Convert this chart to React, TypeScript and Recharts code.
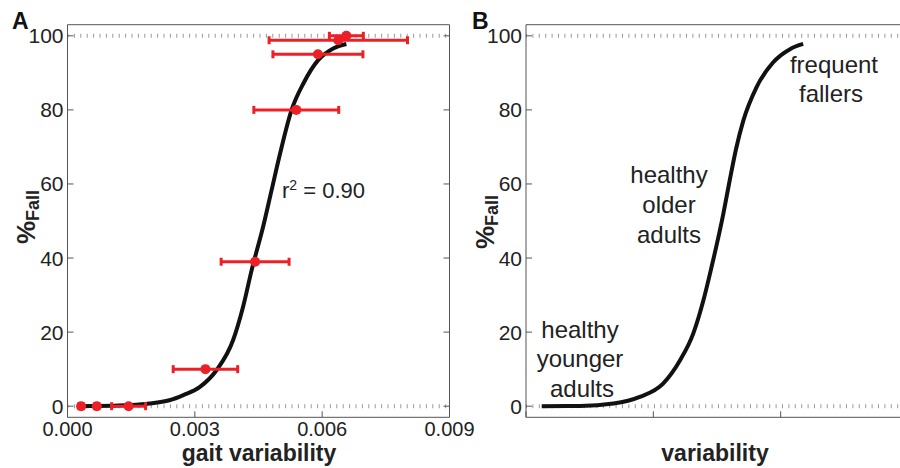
import React from 'react';
import { ComposedChart, Line, Scatter, ErrorBar, XAxis, YAxis, ReferenceLine } from 'recharts';

const percentTicks = [0, 20, 40, 60, 80, 100];
const gaitTicks = [0, 0.003, 0.006, 0.009];
const variabilityTicks = [0, 3, 6, 9];

// panel A – fitted curve (gait variability vs % fallers)
const fitX = [0.0003, 0.0007, 0.0011, 0.0015, 0.00193, 0.0024, 0.00273, 0.00312, 0.00351, 0.0039, 0.00414, 0.00434, 0.00461, 0.00481, 0.00501, 0.00528, 0.00556, 0.00591, 0.00626, 0.00657];
const fitY = [0, 0.05, 0.15, 0.3, 0.7, 1.6, 3.0, 5.2, 9.7, 17.8, 27, 36.8, 48.5, 58.4, 68.3, 80, 87.2, 93.5, 96.6, 97.8];

// panel A – group means with horizontal error bars
const groupX = [0.00032, 0.00069, 0.00144, 0.00325, 0.00442, 0.00539, 0.0059, 0.00638, 0.00657];
const groupY = [0, 0, 0, 10, 39, 80, 95, 98.8, 100];
const groupErr = [0.00005, 0.00005, 0.0004, 0.00076, 0.0008, 0.001, 0.00106, 0.00163, 0.0004];

// panel B – schematic curve
const schemaX = [0.37, 1.27, 2.06, 2.68, 3.23, 3.63, 3.94, 4.18, 4.37, 4.53, 4.65, 4.8, 4.95, 5.12, 5.43, 5.82, 6.22, 6.53];
const schemaY = [0, 0.05, 0.7, 2.5, 6.1, 12.4, 19.6, 28.6, 37.5, 45.5, 52, 61, 69.5, 77.1, 86.1, 92.8, 96.4, 97.8];

const fitData = fitX.map((x, i) => ({ x, y: fitY[i] }));
const groupData = groupX.map((x, i) => ({ x, y: groupY[i], err: groupErr[i] }));
const schemaData = schemaX.map((x, i) => ({ x, y: schemaY[i] }));

const FONT = '"Liberation Sans", Arial, Helvetica, sans-serif';
const AXIS = '#555';
const RED = '#ec2027';
const INK = '#222';

const LeftTick = (props: any) => {
  const { x, y, payload, labelled } = props;
  return (
    <g>
      <line x1={x} x2={x + 6} y1={y} y2={y} stroke={AXIS} />
      {labelled && (
        <text x={x - 4} y={y + 7.5} textAnchor="end" fontSize={21} fill={INK} fontFamily={FONT}>
          {payload.value}
        </text>
      )}
    </g>
  );
};

const RightTick = (props: any) => {
  const { x, y } = props;
  return <line x1={x} x2={x - 6} y1={y} y2={y} stroke={AXIS} />;
};

const BottomTick = (props: any) => {
  const { x, y, payload, labelled } = props;
  return (
    <g>
      <line x1={x} x2={x} y1={y} y2={y - 6} stroke={AXIS} />
      {labelled && (
        <text x={x} y={y + 19} textAnchor="middle" fontSize={20} fill={INK} fontFamily={FONT}>
          {Number(payload.value).toFixed(3)}
        </text>
      )}
    </g>
  );
};

const TopTick = (props: any) => {
  const { x, y } = props;
  return <line x1={x} x2={x} y1={y} y2={y + 6} stroke={AXIS} />;
};

const Dot = (props: any) => <circle cx={props.cx} cy={props.cy} r={5} fill={RED} />;

const dotted = { stroke: '#999', strokeWidth: 4, strokeDasharray: '1 5.4' };

// axes are 1px thick so recharts still draws them; margins below are reduced by 1 to compensate
const Frame = ({ domain, ticks, labelX }: { domain: number[]; ticks: number[]; labelX: boolean }) => [
  <XAxis key="xb" xAxisId={0} type="number" dataKey="x" domain={domain} ticks={ticks} interval={0} height={1}
    tickSize={0} tickMargin={0} axisLine={{ stroke: AXIS }} tickLine={false} allowDataOverflow
    tick={<BottomTick labelled={labelX} />} />,
  <XAxis key="xt" xAxisId="top" orientation="top" type="number" domain={domain} ticks={ticks} interval={0} height={1}
    tickSize={0} tickMargin={0} axisLine={{ stroke: AXIS }} tickLine={false} allowDataOverflow tick={<TopTick />} />,
  <YAxis key="yl" yAxisId={0} type="number" domain={[-3, 103]} ticks={percentTicks} interval={0} width={1}
    tickSize={0} tickMargin={0} axisLine={{ stroke: AXIS }} tickLine={false} allowDataOverflow
    tick={<LeftTick labelled />} />,
  <YAxis key="yr" yAxisId="right" orientation="right" type="number" domain={[-3, 103]} ticks={percentTicks} interval={0}
    width={1} tickSize={0} tickMargin={0} axisLine={{ stroke: AXIS }} tickLine={false} allowDataOverflow
    tick={<RightTick />} />,
  <ReferenceLine key="r0" y={0} {...dotted} />,
  <ReferenceLine key="r100" y={100} {...dotted} />,
];

const YLabel = ({ x, y }: { x: number; y: number }) => (
  <text x={x} y={y} transform={`rotate(-90 ${x} ${y})`} textAnchor="middle" fontFamily={FONT} fontWeight="bold" fill={INK}>
    <tspan fontSize={26}>%</tspan>
    <tspan fontSize={18} dy={4}>Fall</tspan>
  </text>
);

const note = { fontFamily: FONT, fontSize: 24, fill: INK, textAnchor: 'middle' as const };

const App = () => {
  return (
    <div style={{ position: 'fixed', left: 0, top: 0, width: 900, height: 468, overflow: 'hidden', background: '#fff' }}>
      <div style={{ position: 'absolute', left: 0, top: 0 }}>
        <ComposedChart width={480} height={468} margin={{ top: 23.7, right: 29.5, bottom: 49.7, left: 66.5 }}>
          {Frame({ domain: [0, 0.009], ticks: gaitTicks, labelX: true })}
          <Line data={fitData} dataKey="y" type="monotone" stroke="#111" strokeWidth={4} dot={false} isAnimationActive={false} />
          <Scatter data={groupData} dataKey="y" fill={RED} shape={<Dot />} isAnimationActive={false}>
            <ErrorBar dataKey="err" direction="x" width={4} strokeWidth={3} stroke={RED} isAnimationActive={false} />
          </Scatter>
        </ComposedChart>
      </div>
      <div style={{ position: 'absolute', left: 460, top: 0 }}>
        <ComposedChart width={460} height={468} margin={{ top: 23.7, right: 11, bottom: 49.7, left: 65 }}>
          {Frame({ domain: [0, 9], ticks: variabilityTicks, labelX: false })}
          <Line data={schemaData} dataKey="y" type="monotone" stroke="#111" strokeWidth={4} dot={false} isAnimationActive={false} />
        </ComposedChart>
      </div>
      <svg width={900} height={468} style={{ position: 'absolute', left: 0, top: 0, pointerEvents: 'none' }}>
        <text x={12} y={29} fontFamily={FONT} fontWeight="bold" fontSize={23} fill="#111">A</text>
        <text x={472} y={29} fontFamily={FONT} fontWeight="bold" fontSize={23} fill="#111">B</text>
        <YLabel x={35} y={217} />
        <YLabel x={494} y={222} />
        <text x={282} y={198} fontFamily={FONT} fontSize={22} fill={INK}>
          r<tspan fontSize={14} dy={-8}>2</tspan><tspan dy={8}> = 0.90</tspan>
        </text>
        <text x={669} y={183} {...note}>healthy</text>
        <text x={669} y={213} {...note}>older</text>
        <text x={669} y={243} {...note}>adults</text>
        <text x={580} y={338} {...note}>healthy</text>
        <text x={580} y={367} {...note}>younger</text>
        <text x={582} y={397} {...note}>adults</text>
        <text x={834} y={73} {...note}>frequent</text>
        <text x={831} y={102} {...note}>fallers</text>
        <text x={259} y={461} fontFamily={FONT} fontWeight="bold" fontSize={23} fill={INK} textAnchor="middle">gait variability</text>
        <text x={715} y={461} fontFamily={FONT} fontWeight="bold" fontSize={23} fill={INK} textAnchor="middle">variability</text>
      </svg>
    </div>
  );
};

export default App;
